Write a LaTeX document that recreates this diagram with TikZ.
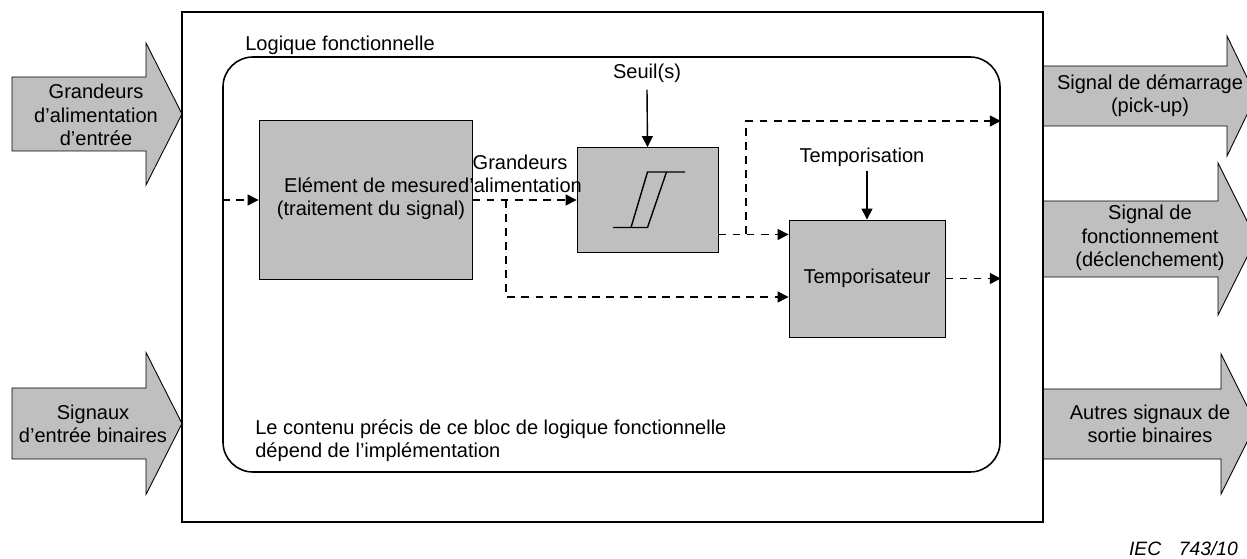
\documentclass[tikz,border=0pt]{standalone}
\usepackage{fontspec}
\setmainfont{Liberation Sans}
\usepackage{tikz}
\usetikzlibrary{arrows.meta,positioning,calc}

\begin{document}
\begin{tikzpicture}[
    font=\fontsize{11.4}{13.2}\selectfont,
    block/.style={rectangle,draw,line width=0.5pt,fill=gray!50,align=center},
    bigarrow/.style={draw,line width=0.5pt,fill=gray!50},
    sig/.style={-{Triangle[length=2.2mm,width=2.2mm]},line width=0.8pt,dash pattern=on 4.5pt off 3.5pt},
    feed/.style={-{Triangle[length=2.2mm,width=2.2mm]},line width=0.8pt},
    txt/.style={align=center,inner sep=0pt}
]
    \useasboundingbox (0,0) rectangle (24.94,-11.18);
    \clip (0,0) rectangle (24.94,-11.18);

    % Input arrows
    \foreach \yc/\bh in {-2.28/0.74,-8.47/0.71} {
        \draw[bigarrow] (0.24,\yc+\bh) -- (2.92,\yc+\bh) -- (2.92,\yc+1.42) -- (3.64,\yc)
            -- (2.92,\yc-1.42) -- (2.92,\yc-\bh) -- (0.24,\yc-\bh) -- cycle;
    }

    % Output arrows
    \foreach \yc/\bh/\hh/\xh in {-1.92/0.6/1.2/24.54,-4.78/0.76/1.52/24.36,-8.48/0.7/1.4/24.42} {
        \draw[bigarrow] (20.86,\yc+\bh) -- (\xh,\yc+\bh) -- (\xh,\yc+\hh) -- (25.12,\yc)
            -- (\xh,\yc-\hh) -- (\xh,\yc-\bh) -- (20.86,\yc-\bh) -- cycle;
    }

    \node[txt] (in_qty) at (1.92,-2.3) {Grandeurs\\d’alimentation\\d’entrée};
    \node[txt] (in_bin) at (1.86,-8.47) {Signaux\\d’entrée binaires};
    \node[txt] (out_pickup) at (23.0,-1.92) {Signal de démarrage\\(pick-up)};
    \node[txt] (out_trip) at (23.0,-4.76) {Signal de\\fonctionnement\\(déclenchement)};
    \node[txt] (out_other) at (23.0,-8.48) {Autres signaux de\\sortie binaires};

    % Frames
    \node[draw,line width=1.3pt,inner sep=0pt,minimum width=17.22cm,minimum height=10.2cm] (frame) at (12.25,-5.34) {};
    \node[draw,line width=0.9pt,inner sep=0pt,rounded corners=0.6cm,minimum width=15.54cm,minimum height=8.3cm] (logic) at (12.23,-5.29) {};
    \node[txt,anchor=west] (lbl_logic) at (4.9,-0.9) {Logique fonctionnelle};

    % Function blocks
    \node[block,minimum width=4.26cm,minimum height=3.18cm] (meas) at (7.31,-4.0) {};
    \node[txt] (meas_txt) at (7.42,-3.97) {Elément de mesure\\(traitement du signal)};
    \node[block,minimum width=2.82cm,minimum height=2.1cm] (thr) at (12.95,-4.0) {};
    \node[block,minimum width=3.12cm,minimum height=2.34cm] (timer) at (17.34,-5.57) {Temporisateur};

    % Hysteresis symbol
    \begin{scope}[shift={(thr.center)},line width=0.8pt]
        \draw (-0.69,-0.55) -- (0,-0.55) -- (0.38,0.56);
        \draw (-0.33,-0.55) -- (0,0.56) -- (0.75,0.56);
    \end{scope}

    % Labels
    \node[txt] (seuil) at (12.94,-1.46) {Seuil(s)};
    \node[txt] (tempo) at (17.24,-3.14) {Temporisation};
    \node[txt] (lbl_qty) at (10.4,-3.48) {Grandeurs\\d’alimentation};
    \node[txt,anchor=west,align=left] (note) at (5.1,-8.82) {Le contenu précis de ce bloc de logique fonctionnelle\\dépend de l’implémentation};
    \node[txt,font=\fontsize{11}{12}\selectfont\itshape] (iec) at (23.67,-10.98) {IEC\hspace{10pt}743/10};

    % Settings
    \draw[feed] ([yshift=-4pt]seuil.south) -- (thr.north);
    \draw[feed] ($(tempo.south -| timer.north)+(0,-0.08)$) -- (timer.north);

    % Signal paths
    \coordinate (split_meas) at (10.12,-4.0);
    \coordinate (thr_out) at ($(thr.east)+(0,-0.69)$);
    \coordinate (split_thr) at (14.92,-4.68);
    \draw[sig] (logic.west |- meas.west) -- (meas.west);
    \draw[sig] (meas.east) -- (thr.west);
    \draw[sig] (split_meas) |- ($(timer.west)+(0,-0.37)$);
    \draw[sig] (thr_out) -- (thr_out -| timer.west);
    \draw[sig] (split_thr) |- (logic.east |- 0,-2.42);
    \draw[sig] (timer.east) -- (timer.east -| logic.east);
\end{tikzpicture}
\end{document}
